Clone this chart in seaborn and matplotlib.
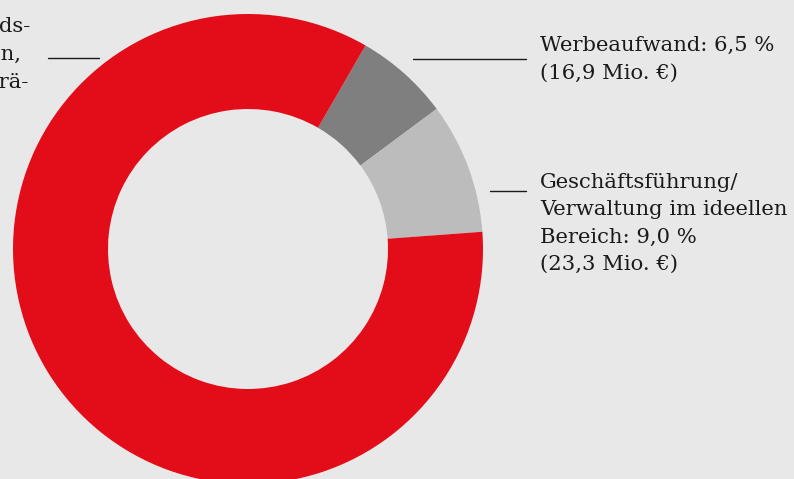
import seaborn as sns
import matplotlib.pyplot as plt

# slice values (percent) and labels, drawn clockwise from the dark grey slice
segments = ['Werbeaufwand', 'Geschäftsführung/Verwaltung', 'Projekte']
shares = [6.5, 9.0, 84.5]
millions = [16.9, 23.3, 219.3]
seg_colors = ['#7f7f7f', '#bcbcbc', '#e30d19']


def de(x):
    return f'{x:.1f}'.replace('.', ',')


label_werbung = f'Werbeaufwand: {de(shares[0])} %\n({de(millions[0])} Mio. €)'
label_verwaltung = ('Geschäftsführung/\nVerwaltung im ideellen\n'
                    f'Bereich: {de(shares[1])} %\n({de(millions[1])} Mio. €)')
# left label is cut by the page edge, only line endings are visible
label_projekte = ['Projekt- und Verbands-', 'arbeit, Aktion,', 'Bildungsarbeit, Prä-']

sns.set_theme(style='white')
plt.rcParams['font.family'] = ['DejaVu Serif']
bg = '#e8e8e8'
ink = '#1a1a1a'

W, H = 794, 479
fig = plt.figure(figsize=(W / 100, H / 100), dpi=100, facecolor=bg)
ax = fig.add_axes([0, 0, 1, 1])
ax.set_facecolor(bg)

# y axis inverted -> angles mirrored, so clockwise on screen = counterclock in data
ax.pie(shares, colors=seg_colors, center=(248, 249), radius=235,
       startangle=-60, counterclock=True,
       wedgeprops=dict(width=95, linewidth=0))
ax.set_xlim(0, W)
ax.set_ylim(H, 0)
ax.set_aspect('equal')
ax.axis('off')

fs = 15.2
ls = 1.56
ax.plot([413, 526], [59, 59], color=ink, lw=1)
ax.text(540, 36, label_werbung, fontsize=fs, color=ink, va='top', ha='left',
        linespacing=ls)

ax.plot([490, 526], [191, 191], color=ink, lw=1)
ax.text(540, 173, label_verwaltung, fontsize=fs, color=ink, va='top', ha='left',
        linespacing=ls)

ax.plot([48, 99], [58, 58], color=ink, lw=1)
for line, xr, yb in zip(label_projekte, [30, 21, 28], [32, 60, 88]):
    ax.text(xr, yb, line, fontsize=fs, color=ink, va='baseline', ha='right')

fig.savefig('out.png', dpi=100, facecolor=bg)
